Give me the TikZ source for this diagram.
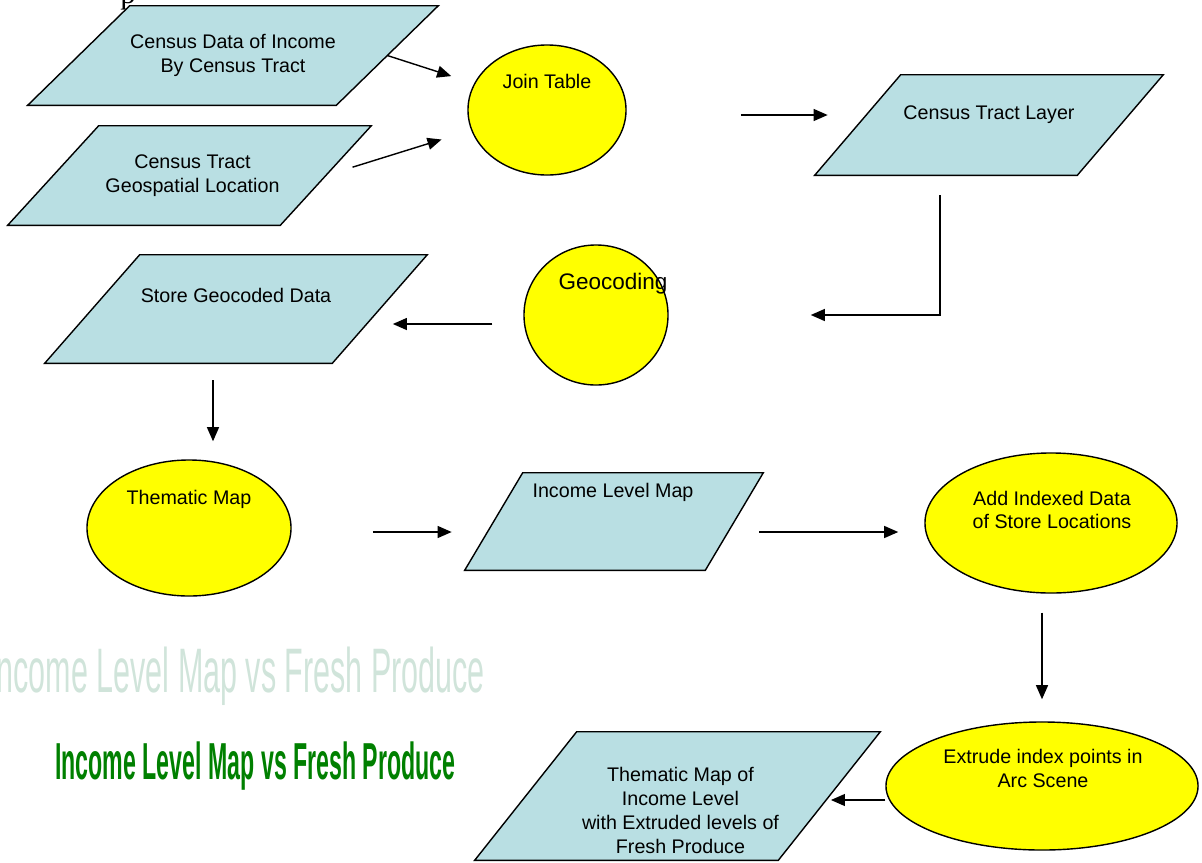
\documentclass[tikz,border=0pt]{standalone}
\usepackage{graphicx}
\usepackage{fontspec}
\setmainfont{Liberation Sans}
\newfontfamily\seriffont{Liberation Serif}
\usetikzlibrary{arrows.meta,shapes.geometric,calc}

\definecolor{datfill}{RGB}{185,223,227}
\definecolor{procfill}{RGB}{255,255,0}
\definecolor{fadegreen}{RGB}{208,228,218}
\definecolor{titlegreen}{RGB}{0,128,0}

\begin{document}
\begin{tikzpicture}[
          x=0.025cm, y=-0.025cm,
          lbl/.style={align=center, inner sep=0pt, font=\fontsize{14}{17}\selectfont},
          % body width / height / lean of the parallelogram
          dat/.style n args={3}{rectangle, inner sep=0pt, minimum width=#1, minimum height=#2,
                      append after command={\pgfextra{\let\datnode=\tikzlastnode
                        \fill[datfill, draw=black, line width=1pt]
                          ([xshift=#3/2]\datnode.north west) -- ([xshift=#3/2]\datnode.north east)
                          -- ([xshift=-#3/2]\datnode.south east) -- ([xshift=-#3/2]\datnode.south west) -- cycle;}}},
          proc/.style={ellipse, draw=black, line width=1pt, fill=procfill, inner sep=0pt},
          fl/.style={-{Triangle[length=10pt,width=8.5pt]}, draw=black, line width=1pt}
        ]
        \useasboundingbox (0,0) rectangle (1202,862);
        % cut-off heading letter
        \node[anchor=base west, inner sep=0pt, font=\seriffont\fontsize{22}{24}\selectfont] (head) at (120,3) {p};

        % input layers
        \node[dat={7.7cm}{2.475cm}{2.55cm}] (income) at (233,55.5) {};
        \node[lbl] (income-t) at (income) {Census Data of Income\\By Census Tract};
        \node[dat={6.8cm}{2.475cm}{2.275cm}] (tract) at (189.5,175.5) {};
        \node[lbl] (tract-t) at ($(tract)+(3,0)$) {Census Tract\\Geospatial Location};
        \node[proc, minimum width=3.95cm, minimum height=3.25cm] (join) at (547,110) {};
        \node[lbl] (join-t) at ($(join)+(0,-29)$) {Join Table};
        \node[dat={6.55cm}{2.5cm}{2.15cm}] (layer) at (989,125) {};
        \node[lbl] (layer-t) at ($(layer)+(0,-10)$) {Census Tract Layer};

        % geocoding
        \node[proc, minimum width=3.6cm, minimum height=3.5cm] (geocode) at (596,315) {};
        \node[lbl, font=\fontsize{16}{19}\selectfont] (geocode-t) at ($(geocode)+(17,-31)$) {Geocoding};
        \node[dat={7.175cm}{2.7cm}{2.375cm}] (store) at (236,309) {};
        \node[lbl] (store-t) at ($(store)+(0,-14)$) {Store Geocoded Data};

        % mapping
        \node[proc, minimum width=5.1cm, minimum height=3.4cm] (thematic) at (189,528) {};
        \node[lbl] (thematic-t) at ($(thematic)+(0,-29)$) {Thematic Map};
        \node[dat={6cm}{2.425cm}{1.45cm}] (incmap) at (614,521.5) {};
        \node[lbl] (incmap-t) at ($(incmap)+(-1,-29)$) {Income Level Map};
        \node[proc, minimum width=6.3cm, minimum height=3.5cm] (addidx) at (1051,523) {};
        \node[lbl] (addidx-t) at ($(addidx)+(1,-13)$) {Add Indexed Data\\of Store Locations};
        \node[proc, minimum width=7.8cm, minimum height=3.2cm] (extrude) at (1042,786) {};
        \node[lbl] (extrude-t) at ($(extrude)+(1,-17.5)$) {Extrude index points in\\Arc Scene};
        \node[dat={7.575cm}{3.2cm}{2.55cm}] (final) at (677.5,796) {};
        \node[lbl] (final-t) at ($(final)+(3,14.5)$) {Thematic Map of\\Income Level\\with Extruded levels of\\Fresh Produce};

        % titles
        \node[anchor=base west, inner sep=0pt, text=fadegreen, font=\fontsize{44.7}{50}\selectfont] (title-fade) at (-12,692)
          {\scalebox{0.485}[1]{Income Level Map vs Fresh Produce}};
        \node[anchor=base west, inner sep=0pt, text=titlegreen, font=\bfseries\fontsize{37}{40}\selectfont] (title) at (55,779)
          {\scalebox{0.445}[1]{Income Level Map vs Fresh Produce}};

        % flow
        \draw[fl, shorten >=0.6cm] (income.east) -- (join.160);
        \draw[fl, shorten <=0.7cm, shorten >=0.775cm] (tract.east) -- (join.195);
        \draw[fl, shorten <=2.85cm, shorten >=0.75cm] ($(join.east)+(0,5)$) -- ($(join.east -| layer.west)+(0,5)$);
        \draw[fl, shorten <=0.5cm, shorten >=3.55cm] ($(layer.south)+(-49,0)$) |- (geocode.east);
        \draw[fl, shorten <=0.775cm, shorten >=0.325cm] ($(geocode.west)+(0,9)$) -- ($(geocode.west -| store.east)+(0,9)$);
        \draw[fl, shorten <=0.425cm, shorten >=0.45cm] ($(store.south)+(-23,0)$) -- ($(store.south |- thematic.north)+(-23,0)$);
        \draw[fl, shorten <=2.025cm, shorten >=1.05cm] ($(thematic.east)+(0,4)$) -- ($(thematic.east -| incmap.west)+(0,4)$);
        \draw[fl, shorten <=0.625cm, shorten >=0.65cm] ($(incmap.east)+(0,10.5)$) -- ($(incmap.east -| addidx.west)+(0,10.5)$);
        \draw[fl, shorten <=0.475cm, shorten >=0.55cm] (addidx.south -| extrude.north) -- (extrude.north);
        \draw[fl, shorten >=0.04cm] ($(final.east -| extrude.west)+(0,4)$) -- ($(final.east)+(0,4)$);
\end{tikzpicture}
\end{document}
